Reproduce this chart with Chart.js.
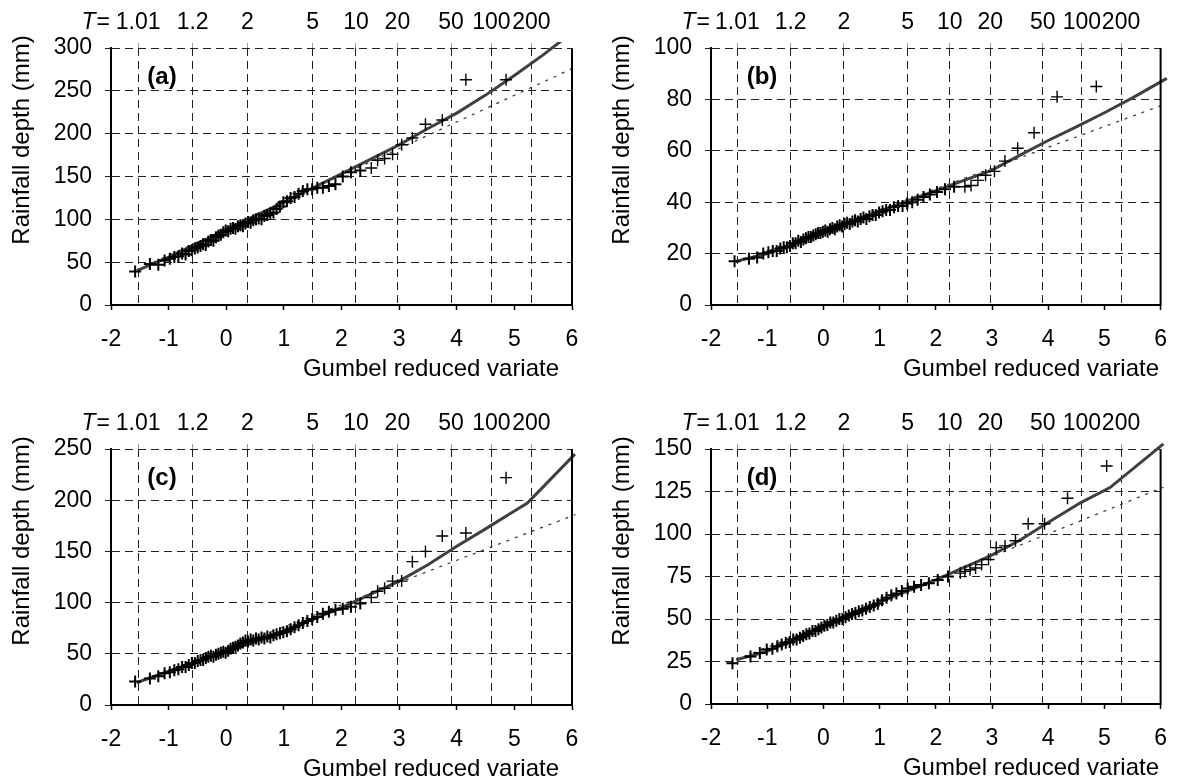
<!DOCTYPE html>
<html>
<head>
<meta charset="utf-8">
<script src="https://cdn.jsdelivr.net/npm/chart.js@4.4.1/dist/chart.umd.min.js"></script>
<style>
  html, body { margin: 0; padding: 0; background: #fff; }
  #wrap { position: relative; width: 1183px; height: 782px; overflow: hidden; }
  canvas { position: absolute; }
</style>
</head>
<body>
<div id="wrap">
  <canvas id="pa" width="600" height="395" style="left:0;top:0"></canvas>
  <canvas id="pb" width="583" height="395" style="left:600px;top:0"></canvas>
  <canvas id="pc" width="600" height="387" style="left:0;top:395px"></canvas>
  <canvas id="pd" width="583" height="387" style="left:600px;top:395px"></canvas>
</div>
<script>
// return periods shown on the top axis
var returnPeriods = ["1.01", "1.2", "2", "5", "10", "20", "50", "100", "200"];

// Gumbel reduced variate of the plotted maxima (panels a, b, c share the record length)
var variateABC = [-1.581, -1.325, -1.179, -1.070, -0.979, -0.901, -0.831, -0.766, -0.706, -0.650,
  -0.596, -0.545, -0.495, -0.447, -0.401, -0.355, -0.310, -0.266, -0.222, -0.179,
  -0.136, -0.094, -0.052, -0.010, 0.033, 0.075, 0.117, 0.160, 0.203, 0.245,
  0.289, 0.333, 0.378, 0.423, 0.469, 0.516, 0.563, 0.612, 0.662, 0.713,
  0.765, 0.819, 0.874, 0.932, 0.991, 1.053, 1.117, 1.185, 1.255, 1.329,
  1.408, 1.491, 1.580, 1.677, 1.781, 1.895, 2.022, 2.164, 2.326, 2.517,
  2.627, 2.748, 2.886, 3.044, 3.230, 3.457, 3.749, 4.158, 4.856];
var variateD = [-1.618, -1.297, -1.131, -1.008, -0.908, -0.820, -0.741, -0.669, -0.601, -0.537,
  -0.476, -0.417, -0.359, -0.303, -0.249, -0.195, -0.141, -0.088, -0.035, 0.017,
  0.070, 0.123, 0.176, 0.230, 0.284, 0.339, 0.395, 0.451, 0.510, 0.569,
  0.630, 0.693, 0.758, 0.825, 0.895, 0.968, 1.044, 1.124, 1.209, 1.299,
  1.396, 1.500, 1.613, 1.738, 1.877, 2.034, 2.217, 2.435, 2.518, 2.609,
  2.708, 2.816, 2.938, 3.075, 3.232, 3.418, 3.644, 3.935, 4.344, 5.040];

// observed rainfall depths (mm)
var depthA = [39, 48, 47, 52, 54, 56, 57, 60, 59, 63,
  64, 66, 67, 69, 71, 70, 74, 76, 75, 79,
  81, 82, 85, 87, 86, 89, 90, 89, 92, 93,
  92, 95, 97, 96, 99, 100, 101, 100, 104, 105,
  107, 108, 112, 115, 120, 121, 125, 126, 130, 133,
  135, 135, 137, 137, 139, 141, 150, 155, 157, 160,
  169, 171, 176, 187, 195, 211, 216, 263, 263];
var depthB = [17, 18, 18.5, 20, 20.5, 21, 21, 22, 22.5, 22.5,
  23, 24, 24, 25, 24.5, 25.5, 26, 26.5, 26.5, 27,
  27.5, 28, 28, 28.5, 29, 28.5, 29.5, 30, 29.5, 30.5,
  31, 30.5, 31.5, 32, 31.5, 32.5, 33, 32.5, 33.5, 34,
  33.5, 34.5, 35, 35, 36, 36.5, 37, 37, 38, 38.5,
  38.5, 39.5, 40, 41, 42, 43, 44, 45, 46, 46,
  46.5, 48.5, 50.5, 52, 56, 61, 67, 81, 85];
var depthC = [23, 26, 28, 31, 32, 34, 35, 37, 37, 39,
  41, 41, 43, 44, 44, 46, 47, 48, 47, 49,
  50, 51, 52, 51, 53, 55, 56, 57, 58, 60,
  61, 63, 62, 64, 63, 65, 64, 66, 65, 67,
  66, 68, 69, 70, 71, 72, 74, 76, 78, 80,
  82, 84, 86, 89, 91, 93, 94, 96, 99, 105,
  111, 114, 121, 121, 140, 150, 165, 168, 222];
var depthD = [24, 28, 30, 32, 32.5, 34, 35, 36, 36.5, 38,
  38, 39, 40, 41, 41.5, 43, 43, 44, 45, 46,
  46.5, 48, 48, 49, 50, 50, 51, 52, 53, 53.5,
  54.5, 55, 56, 57, 58, 59, 61, 62.5, 64, 65,
  66.5, 68, 69, 70, 71, 73, 75, 77, 78, 79,
  80, 82, 85, 92, 93, 96, 106, 106, 121, 140];

// fitted distribution (solid) and Gumbel fit (dotted)
var fitXA = [-1.55, -1, 0, 1, 2, 3, 3.5, 4, 4.5, 5, 5.5, 6];
var fitA  = [40, 56, 88, 120, 153, 187, 206, 224, 245, 268, 292, 318];
var fitXB = [-1.55, -1, 0, 1, 2, 3, 3.5, 4, 4.5, 5, 5.5, 6.11];
var fitB  = [17, 20, 28, 36.5, 44.5, 52.5, 58.3, 64, 69.3, 74.8, 80.6, 88.2];
var fitXC = [-1.55, -1, 0, 1, 2, 3, 3.5, 4, 4.5, 5, 5.22, 5.5, 6.05];
var fitC  = [22, 33, 52, 72, 95, 121, 137, 155, 172, 189.5, 197, 213, 245];
var fitXD = [-1.55, -1, 0, 1, 2, 2.96, 3.48, 3.94, 4.58, 5.1, 6.05];
var fitD  = [26, 31, 46, 60, 73, 87, 96, 105.6, 118.5, 127.3, 153];

var gumXA = [-1.55, 6.1],  gumA = [41, 279];
var gumXB = [-1.55, 6.06], gumB = [16.5, 78];
var gumXC = [-1.55, 6.06], gumC = [21, 186];
var gumXD = [-1.55, 6.05], gumD = [26, 127.5];

var FONT = '"Liberation Sans", Arial, sans-serif';

function pairs(xs, ys) {
  var out = [];
  for (var i = 0; i < xs.length; i++) {
    if (ys[i] !== undefined) out.push({x: xs[i], y: ys[i]});
  }
  return out;
}

// reduced variate for a return period (top axis positions)
function gumbelOf(T) {
  return -Math.log(-Math.log(1 - 1 / T));
}

// texts and the right frame line
var panelText = {
  id: 'panelText',
  afterDraw: function(chart) {
    var ctx = chart.ctx, a = chart.chartArea, o = chart.options.plugins.panelText;
    ctx.save();
    ctx.strokeStyle = '#000';
    ctx.lineWidth = 2;
    ctx.beginPath();
    ctx.moveTo(a.right, a.top);
    ctx.lineTo(a.right, a.bottom + 1);
    ctx.stroke();

    ctx.fillStyle = '#000';
    ctx.font = 'bold 24px ' + FONT;
    ctx.textAlign = 'center';
    ctx.textBaseline = 'middle';
    ctx.fillText(o.letter, a.left + 51, a.top + 29);

    // T=
    ctx.font = '23px ' + FONT;
    ctx.textAlign = 'right';
    var eqW = ctx.measureText('=').width;
    ctx.fillText('=', a.left - 1, a.top - 25);
    ctx.font = 'italic 23px ' + FONT;
    ctx.fillText('T', a.left - 2 - eqW, a.top - 25);

    // axis titles
    ctx.font = '24px ' + FONT;
    ctx.textAlign = 'center';
    ctx.textBaseline = 'alphabetic';
    ctx.fillText('Gumbel reduced variate', a.left + 320, a.bottom + 71);
    ctx.save();
    ctx.translate(a.left - 89, a.top + 92);
    ctx.rotate(-Math.PI / 2);
    ctx.textBaseline = 'middle';
    ctx.fillText('Rainfall depth (mm)', 0, 0);
    ctx.restore();
    ctx.restore();
  }
};

function makePanel(id, letter, xs, ys, fx, fy, gx, gy, ymax, ystep, dims) {
  new Chart(document.getElementById(id), {
    type: 'scatter',
    data: {
      datasets: [
        {
          label: 'observed',
          data: pairs(xs, ys),
          showLine: false,
          pointStyle: 'cross',
          pointRadius: 6,
          // crowded crosses look heavier in the original
          pointBorderWidth: function(c) { return c.raw && c.raw.x < 2.4 ? 2 : 1.4; },
          pointBorderColor: '#000',
          pointBackgroundColor: '#000',
          order: 0,
          clip: false
        },
        {
          label: 'fitted',
          data: pairs(fx, fy),
          showLine: true,
          borderColor: '#404040',
          borderWidth: 3,
          pointRadius: 0,
          fill: false,
          order: 1,
          clip: {left: 0, top: 6, right: 9, bottom: 0}
        },
        {
          label: 'Gumbel',
          data: pairs(gx, gy),
          showLine: true,
          borderColor: '#333',
          borderWidth: 1.2,
          borderDash: [3, 6],
          pointRadius: 0,
          fill: false,
          order: 2,
          clip: {left: 0, top: 6, right: 9, bottom: 0}
        }
      ]
    },
    options: {
      responsive: false,
      animation: false,
      events: [],
      layout: { padding: { left: 0, top: 0, right: dims.right, bottom: 0 } },
      plugins: {
        legend: { display: false },
        tooltip: { enabled: false },
        panelText: { letter: letter }
      },
      scales: {
        x: {
          type: 'linear',
          position: 'bottom',
          min: -2, max: 6,
          afterFit: function(s) { s.height = dims.bottom; },
          ticks: { stepSize: 1, color: '#000', font: { family: FONT, size: 23 }, padding: 16, maxRotation: 0 },
          grid: { drawOnChartArea: false, drawTicks: true, tickLength: 5, tickColor: '#000', tickWidth: 1.5 },
          border: { display: true, color: '#000', width: 2 }
        },
        x2: {
          type: 'linear',
          position: 'top',
          min: -2, max: 6,
          afterFit: function(s) { s.height = dims.top; },
          afterBuildTicks: function(s) {
            s.ticks = returnPeriods.map(function(t) { return {value: gumbelOf(parseFloat(t))}; });
          },
          ticks: {
            autoSkip: false, maxRotation: 0, padding: 7, color: '#000',
            font: { family: FONT, size: 23 },
            callback: function(v, i) { return returnPeriods[i]; }
          },
          grid: { drawOnChartArea: true, drawTicks: true, tickLength: 5, color: '#222', lineWidth: 1, tickColor: '#999', tickWidth: 1 },
          border: { display: false, dash: [8, 5] }
        },
        y: {
          min: 0, max: ymax,
          afterFit: function(s) { s.width = dims.left; },
          ticks: { stepSize: ystep, color: '#000', font: { family: FONT, size: 23 }, padding: 13 },
          grid: { color: '#222', lineWidth: 1, drawTicks: true, tickLength: 6, tickColor: '#222' },
          border: { display: true, color: '#000', width: 2, dash: [8, 5] }
        }
      }
    },
    plugins: [panelText]
  });
}

makePanel('pa', '(a)', variateABC, depthA, fitXA, fitA, gumXA, gumA, 300, 50, {left: 111, right: 28, top: 48, bottom: 90});
makePanel('pb', '(b)', variateABC, depthB, fitXB, fitB, gumXB, gumB, 100, 20, {left: 111, right: 11, top: 48, bottom: 90});
makePanel('pc', '(c)', variateABC, depthC, fitXC, fitC, gumXC, gumC, 250, 50, {left: 111, right: 28, top: 54, bottom: 77});
makePanel('pd', '(d)', variateD, depthD, fitXD, fitD, gumXD, gumD, 150, 25, {left: 111, right: 11, top: 54, bottom: 78});
</script>
</body>
</html>
